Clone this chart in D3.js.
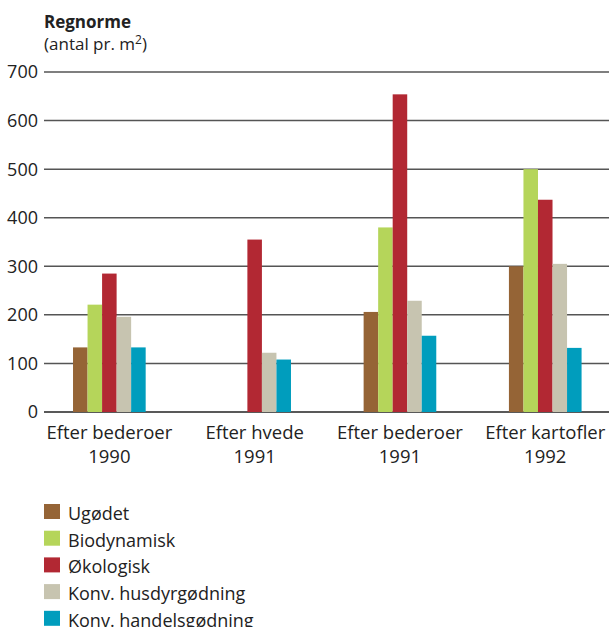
<!DOCTYPE html>
<html>
<head>
<meta charset="utf-8">
<script src="https://cdn.jsdelivr.net/npm/d3@7"></script>
<style>
  body { margin: 0; background: #fff; }
  svg { display: block; font-family: "Open Sans", "DejaVu Sans", sans-serif; }
</style>
</head>
<body>
<div id="chart"></div>
<script>
// kategorier (to linjer pr. label)
var categories = [ 'Efter bederoer|1990', 'Efter hvede|1991', 'Efter bederoer|1991', 'Efter kartofler|1992' ];

var seriesNames = [ 'Ugødet', 'Biodynamisk', 'Økologisk', 'Konv. husdyrgødning', 'Konv. handelsgødning' ];
var seriesColors = [ '#956436', '#b5d55a', '#b22833', '#c7c4b0', '#009dbd' ];

// regnorme pr. m2, en liste pr. serie (null = ingen måling)
var ugodet      = [ 133, null, 206, 300 ];
var biodynamisk = [ 221, null, 380, 500 ];
var okologisk   = [ 285, 355, 654, 437 ];
var husdyr      = [ 196, 122, 229, 305 ];
var handel      = [ 133, 108, 157, 132 ];

var yTicks = [ 0, 100, 200, 300, 400, 500, 600, 700 ];

var seriesValues = [ ugodet, biodynamisk, okologisk, husdyr, handel ];

var width = 609,
    height = 627,
    margin = { top: 72, left: 44 };

var svg = d3.select( '#chart' ).append( 'svg' )
  .attr( 'width', width )
  .attr( 'height', height );

var y = d3.scaleLinear()
  .domain( [ 0, 700 ] )
  .range( [ 412, 72 ] );

var x0 = d3.scaleBand()
  .domain( categories )
  .range( [ 36.7, 617.9 ] )
  .paddingInner( 0.5 )
  .paddingOuter( 0.25 );

var x1 = d3.scaleBand()
  .domain( seriesNames )
  .range( [ 0, x0.bandwidth() ] );

// titel
var title = svg.append( 'text' )
  .attr( 'fill', '#222' )
  .style( 'font-size', '17px' );
title.append( 'tspan' ).attr( 'x', 44 ).attr( 'y', 28 ).style( 'font-weight', 'bold' ).text( 'Regnorme' );
var sub = title.append( 'tspan' ).attr( 'x', 44 ).attr( 'y', 50 );
sub.append( 'tspan' ).text( '(antal pr. m' );
sub.append( 'tspan' ).attr( 'dy', -6 ).style( 'font-size', '12px' ).text( '2' );
sub.append( 'tspan' ).attr( 'dy', 6 ).text( ')' );

// gitterlinjer
svg.append( 'g' )
  .selectAll( 'line' )
  .data( yTicks )
  .enter().append( 'line' )
  .attr( 'x1', margin.left )
  .attr( 'x2', width )
  .attr( 'y1', function( d ) { return y( d ); } )
  .attr( 'y2', function( d ) { return y( d ); } )
  .attr( 'stroke', function( d ) { return d === 0 ? '#222' : '#555'; } )
  .attr( 'stroke-width', 1.5 );

// y-akse labels
svg.append( 'g' )
  .selectAll( 'text' )
  .data( yTicks )
  .enter().append( 'text' )
  .attr( 'x', 38 )
  .attr( 'y', function( d ) { return y( d ); } )
  .attr( 'dy', '0.36em' )
  .attr( 'text-anchor', 'end' )
  .attr( 'fill', '#222' )
  .style( 'font-size', '18px' )
  .text( function( d ) { return d; } );

// søjler
var groups = svg.append( 'g' )
  .selectAll( 'g' )
  .data( categories )
  .enter().append( 'g' )
  .attr( 'transform', function( d ) { return 'translate(' + x0( d ) + ',0)'; } );

groups.selectAll( 'rect' )
  .data( function( d, i ) {
    return seriesNames.map( function( name, s ) {
      return { name: name, color: seriesColors[ s ], value: seriesValues[ s ][ i ] };
    } ).filter( function( e ) { return e.value !== null; } );
  } )
  .enter().append( 'rect' )
  .attr( 'x', function( d ) { return x1( d.name ); } )
  .attr( 'width', x1.bandwidth() )
  .attr( 'y', function( d ) { return y( d.value ); } )
  .attr( 'height', function( d ) { return y( 0 ) - y( d.value ); } )
  .attr( 'fill', function( d ) { return d.color; } );

// x labels
var xl = svg.append( 'g' )
  .selectAll( 'text' )
  .data( categories )
  .enter().append( 'text' )
  .attr( 'text-anchor', 'middle' )
  .attr( 'fill', '#222' )
  .style( 'font-size', '18.5px' );

xl.each( function( d ) {
  var parts = d.split( '|' ),
      cx = x0( d ) + x0.bandwidth() / 2,
      t = d3.select( this );
  t.append( 'tspan' ).attr( 'x', cx ).attr( 'y', 439 ).text( parts[ 0 ] );
  t.append( 'tspan' ).attr( 'x', cx ).attr( 'y', 462.5 ).text( parts[ 1 ] );
} );

// legend
var legend = svg.append( 'g' )
  .selectAll( 'g' )
  .data( seriesNames )
  .enter().append( 'g' )
  .attr( 'transform', function( d, i ) { return 'translate(44,' + ( 504 + i * 26.7 ) + ')'; } );

legend.append( 'rect' )
  .attr( 'width', 16 )
  .attr( 'height', 15 )
  .attr( 'fill', function( d, i ) { return seriesColors[ i ]; } );

legend.append( 'text' )
  .attr( 'x', 24 )
  .attr( 'y', 16 )
  .attr( 'fill', '#222' )
  .style( 'font-size', '18px' )
  .text( function( d ) { return d; } );
</script>
</body>
</html>
